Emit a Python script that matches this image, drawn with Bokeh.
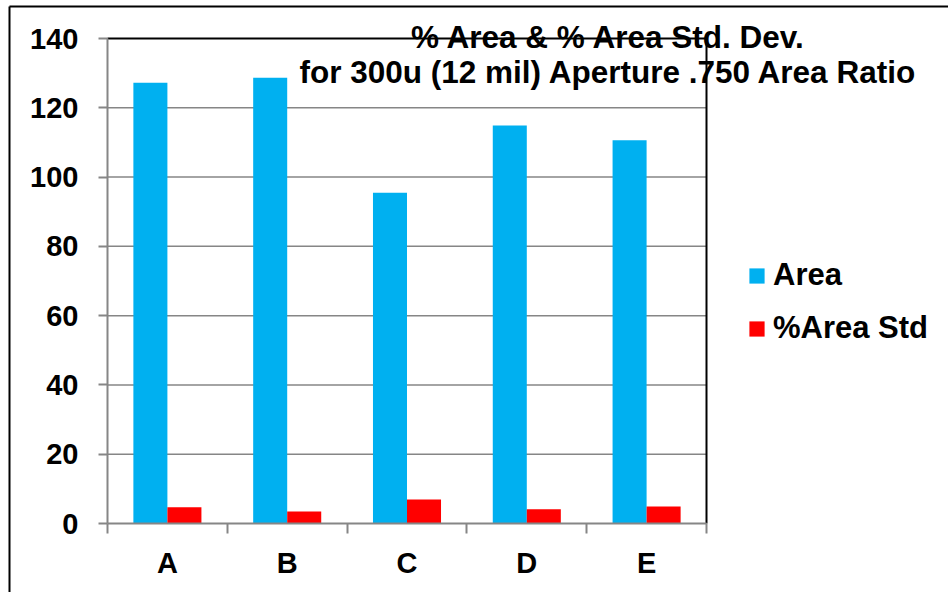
from bokeh.plotting import figure
from bokeh.models import (Range1d, FixedTicker, Legend, LegendItem,
                          Label, ColumnDataSource)
from bokeh.transform import dodge
from bokeh.embed import file_html
from bokeh.resources import INLINE

# --- data -------------------------------------------------------------
categories = ["A", "B", "C", "D", "E"]
area = [127.2, 128.7, 95.5, 114.9, 110.6]
area_std = [4.7, 3.5, 6.9, 4.1, 4.9]
y_ticks = [0, 20, 40, 60, 80, 100, 120, 140]
series_names = ["Area", "%Area Std"]
title_lines = ["% Area & % Area Std. Dev.",
               "for 300u (12 mil) Aperture .750 Area Ratio"]

# --- style / layout ---------------------------------------------------
FONT = "Liberation Sans"
BLUE = "#00B0F0"
RED = "#FF0000"
GREY = "#868686"

W, H = 948, 592
# pixel box of the plotting area inside the canvas
PL, PR, PT, PB = 107, 706, 38, 523
# outer chart border (left and top edges in pixels)
BORDER_L, BORDER_T = 9, 6

n = len(categories)
y_max = y_ticks[-1]
centers = [i + 0.5 for i in range(n)]
boundaries = list(range(n + 1))
source = ColumnDataSource(dict(x=centers, cat=categories, area=area, std=area_std))

# The frame covers the whole canvas so that title, legend and the outer
# border are not clipped; ranges are widened so that 0..n / 0..y_max land
# on the plotting box.
ux = (PR - PL) / n
uy = (PB - PT) / y_max
x0 = -PL / ux
y0 = -(H - PB) / uy
x_range = Range1d(x0, n + (W - PR) / ux)
y_range = Range1d(y0, y_max + PT / uy)


def px_x(px):
    return x0 + px / ux


def px_y(py):
    return y0 + (H - py) / uy


p = figure(width=W, height=H, output_backend="svg", toolbar_location=None,
           x_range=x_range, y_range=y_range,
           min_border=0, min_border_left=0, min_border_right=0,
           min_border_top=0, min_border_bottom=0,
           background_fill_color="white", border_fill_color="white")
p.outline_line_color = None
p.xgrid.visible = False
p.ygrid.visible = False

# outer border of the chart (runs off the right and bottom edges)
p.segment(x0=[px_x(BORDER_L), px_x(BORDER_L)], x1=[px_x(W + 20), px_x(BORDER_L)],
          y0=[px_y(BORDER_T), px_y(BORDER_T)], y1=[px_y(BORDER_T), px_y(H + 20)],
          line_color="black", line_width=2)

# horizontal grid lines, limited to the plotting box
grid_y = y_ticks[1:-1]
p.segment(x0=[0] * len(grid_y), x1=[n] * len(grid_y), y0=grid_y, y1=grid_y,
          line_color=GREY, line_width=1.5)

# bars
bar_w = 0.284
r_area = p.vbar(x=dodge("x", -bar_w / 2), top="area", width=bar_w, bottom=0,
                source=source, fill_color=BLUE, line_color=None)
r_std = p.vbar(x=dodge("x", bar_w / 2), top="std", width=bar_w, bottom=0,
               source=source, fill_color=RED, line_color=None)

# black top and right edges of the plotting box
p.segment(x0=[0, n], x1=[n, n], y0=[y_max, 0], y1=[y_max, y_max],
          line_color="black", line_width=2)

# y axis
yax = p.yaxis[0]
yax.fixed_location = 0
yax.bounds = (0, y_max)
yax.ticker = FixedTicker(ticks=y_ticks)
yax.axis_line_color = GREY
yax.axis_line_width = 2
yax.major_tick_line_color = GREY
yax.major_tick_line_width = 2
yax.major_tick_in = 0
yax.major_tick_out = 9
yax.minor_tick_line_color = None
yax.major_label_standoff = 20
yax.major_label_text_font = FONT
yax.major_label_text_font_style = "bold"
yax.major_label_text_font_size = "29px"
yax.major_label_text_color = "black"

# x axis: labels at category centres, tick marks between categories
xax = p.xaxis[0]
xax.fixed_location = 0
xax.bounds = (0, n)
xax.ticker = FixedTicker(ticks=centers, minor_ticks=boundaries)
xax.major_label_overrides = {c: name for c, name in zip(centers, categories)}
xax.axis_line_color = GREY
xax.axis_line_width = 2
xax.major_tick_line_color = None
xax.major_tick_in = 0
xax.major_tick_out = 10
xax.minor_tick_line_color = GREY
xax.minor_tick_line_width = 2
xax.minor_tick_in = 0
xax.minor_tick_out = 10
xax.major_label_standoff = 13
xax.major_label_text_font = FONT
xax.major_label_text_font_style = "bold"
xax.major_label_text_font_size = "29px"
xax.major_label_text_color = "black"

# legend
legend = Legend(items=[LegendItem(label=series_names[0], renderers=[r_area]),
                       LegendItem(label=series_names[1], renderers=[r_std])],
                location=(747, H - 346), orientation="vertical",
                glyph_width=19, glyph_height=19, label_standoff=7, spacing=17,
                padding=0, margin=0, border_line_color=None,
                background_fill_alpha=0,
                label_text_font=FONT, label_text_font_style="bold",
                label_text_font_size="31px", label_text_color="black")
p.add_layout(legend)

# two-line title (screen units measured from the canvas bottom-left)
for txt, mid in zip(title_lines, (36, 71)):
    p.add_layout(Label(x=608, y=H - mid, x_units="screen", y_units="screen",
                       text=txt, text_align="center", text_baseline="middle",
                       text_font=FONT, text_font_style="bold",
                       text_font_size="31.5px", text_color="black"))

open("out.html", "w").write(file_html(p, INLINE))
